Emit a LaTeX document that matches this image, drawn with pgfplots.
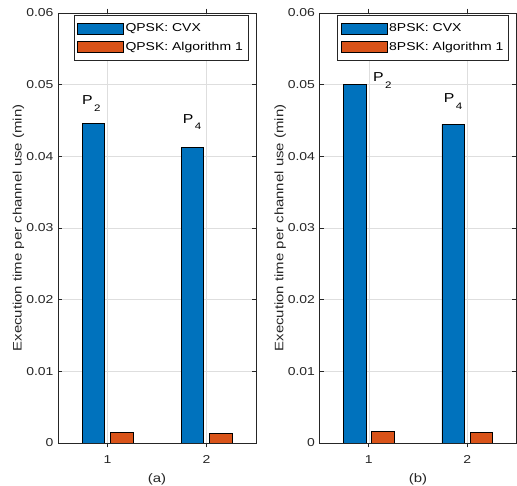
\documentclass[border=0pt]{standalone}
\usepackage{fontspec}
\setmainfont{Liberation Sans}[FakeStretch=1.22]
\usepackage{pgfplots}
\pgfplotsset{compat=1.18}
\definecolor{mblue}{RGB}{0,114,189}
\definecolor{morange}{RGB}{217,83,25}
\definecolor{axgray}{RGB}{38,38,38}
\definecolor{gridgray}{RGB}{222,222,222}
\tikzset{plab/.style={font=\fontsize{13}{15}\selectfont, anchor=base west, inner sep=0pt, text=black}}
\newcommand{\Psub}[1]{P\kern1.5bp\raisebox{-6.5bp}{\fontsize{9.5}{10}\selectfont #1}}
\pgfplotsset{
  matlabbar/.style={
    scale only axis, width=198bp, height=430bp,
    xmin=0.5, xmax=2.5, ymin=0, ymax=0.06,
    xtick={1,2}, xticklabels={1,2},
    ytick={0,0.01,0.02,0.03,0.04,0.05,0.06},
    yticklabels={0,0.01,0.02,0.03,0.04,0.05,0.06},
    scaled y ticks=false, scaled x ticks=false,
    tick align=inside, xtick pos=both, ytick pos=both,
    xticklabel pos=bottom, yticklabel pos=left,
    major tick length=4.3bp,
    xmajorgrids, ymajorgrids,
    major grid style={draw=gridgray, line width=0.5bp},
    axis line style={draw=axgray, line width=0.6bp},
    every tick/.style={draw=axgray, line width=0.6bp},
    tick label style={font=\fontsize{11.5}{13}\selectfont, text=axgray},
    yticklabel style={xshift=-1bp},
    xticklabel style={yshift=-5bp},
    label style={font=\fontsize{12.3}{14}\selectfont, text=axgray},
    ylabel={Execution time per channel use (min)},
    ylabel style={at={(axis description cs:-0.2,0.5)}, anchor=center},
    xlabel style={at={(axis description cs:0.5,-0.084)}, anchor=center},
    ybar, bar width=0.2286,
    legend cell align=left,
    legend style={at={(axis description cs:0.96,0.995)}, anchor=north east,
      draw=axgray, line width=0.5bp, fill=white,
      font=\fontsize{11.5}{13}\selectfont,
      inner xsep=3bp, inner ysep=6.5bp, row sep=4.5bp},
    legend image code/.code={\draw[#1, line width=0.5bp] (0bp,-5.5bp) rectangle (46bp,5.5bp);},
  },
  cvx/.style={fill=mblue, draw=black, line width=0.5bp, bar shift=-0.1429},
  alg/.style={fill=morange, draw=black, line width=0.5bp, bar shift=0.1429},
}
\begin{document}
\begin{tikzpicture}
\begin{axis}[matlabbar, at={(58bp,43bp)}, anchor=south west, xlabel={(a)}]
\addplot[cvx] coordinates {(1,0.0446) (2,0.0413)};
\addlegendentry{QPSK: CVX}
\addplot[alg] coordinates {(1,0.00149) (2,0.00135)};
\addlegendentry{QPSK: Algorithm 1}
\node[plab] at (axis cs:0.742,0.0472) {\Psub{2}};
\node[plab] at (axis cs:1.760,0.0446) {\Psub{4}};
\end{axis}
\begin{axis}[matlabbar, width=197bp, at={(319.5bp,43bp)}, anchor=south west, xlabel={(b)}]
\addplot[cvx] coordinates {(1,0.0500) (2,0.04447)};
\addlegendentry{8PSK: CVX}
\addplot[alg] coordinates {(1,0.00158) (2,0.00144)};
\addlegendentry{8PSK: Algorithm 1}
\node[plab] at (axis cs:1.043,0.0504) {\Psub{2}};
\node[plab] at (axis cs:1.761,0.0475) {\Psub{4}};
\end{axis}
\pgfresetboundingbox
\path (0bp,0bp) rectangle (517bp,486bp);
\end{tikzpicture}
\end{document}
